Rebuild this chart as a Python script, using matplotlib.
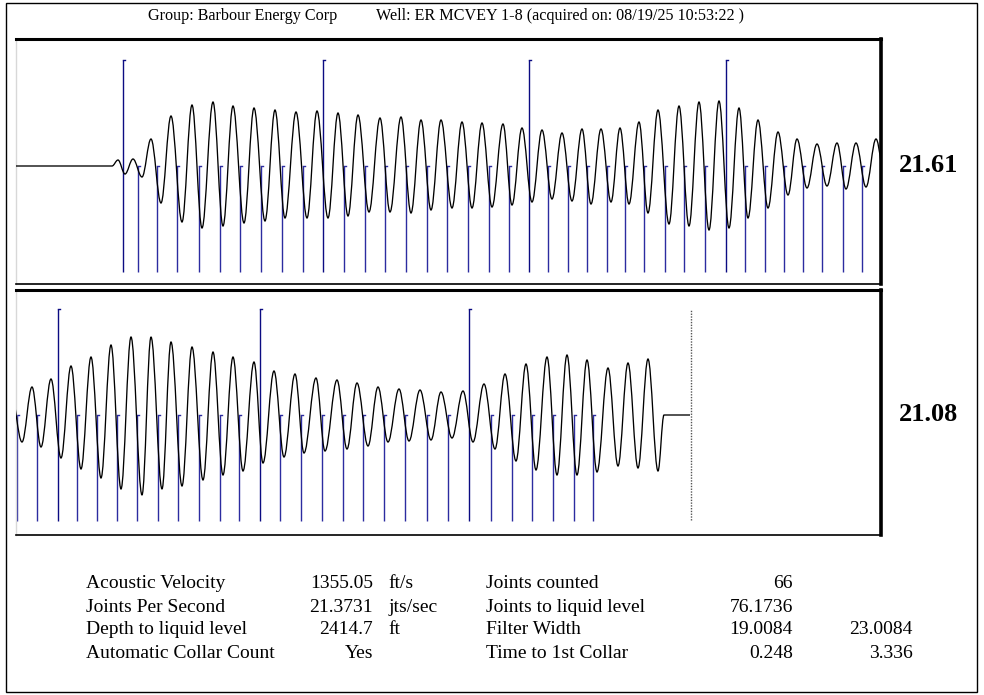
"""
Acoustic liquid level shot - echo trace split over two panels with collar markers.

Samples are trace positions (865 samples per panel), amplitudes in raw counts.
The wave is drawn from its read-off peaks/troughs, each half cycle as a bezier.
"""
import matplotlib
matplotlib.use("Agg")
import matplotlib.pyplot as plt
from matplotlib.patches import PathPatch, Rectangle
from matplotlib.path import Path

plt.rcParams["font.family"] = ["Liberation Serif", "DejaVu Serif"]

WAVE_COLOR = "#000000"
TALL_COLOR = "#0b0b82"
SHORT_COLOR = "#2c2ca0"
PANEL_LEN = 865

HEADER_GROUP = "Group: Barbour Energy Corp"
HEADER_WELL = "Well: ER MCVEY 1-8 (acquired on: 08/19/25 10:53:22 )"
PANEL_VALUES = ["21.61", "21.08"]

# peaks / troughs of the echo (sample, amplitude)
top_s = [0, 96, 102, 109, 117, 126, 135, 145, 155, 166, 176, 186, 197, 207, 217, 228,
         238, 249, 259, 269, 280, 291, 301, 312, 322, 332, 342, 353, 364, 374, 385, 395,
         405, 415, 425, 436, 446, 456, 466, 476, 487, 496, 506, 516, 526, 536, 546, 556,
         566, 575, 585, 595, 604, 613, 623, 632, 642, 653, 663, 673, 683, 693, 703, 713,
         723, 732, 742, 752, 762, 772, 781, 791, 801, 811, 821, 830, 840, 850, 860, 870]
top_a = [0, 0, 6, -8, 7, -11, 27, -37, 50, -56, 61, -62, 64, -60, 60, -57,
         58, -55, 56, -52, 54, -52, 55, -52, 53, -50, 51, -46, 48, -46, 49, -47,
         46, -44, 46, -42, 44, -42, 43, -41, 42, -39, 38, -36, 36, -33, 33, -35,
         37, -38, 37, -36, 38, -38, 44, -47, 56, -58, 60, -60, 64, -64, 65, -62,
         58, -52, 46, -42, 34, -29, 27, -22, 22, -20, 23, -23, 23, -21, 27, -21]

bot_s = [860, 871, 881, 890, 900, 910, 920, 930, 940, 950, 960, 970, 980, 991, 1000, 1011,
         1020, 1031, 1041, 1052, 1062, 1072, 1082, 1092, 1103, 1112, 1123, 1133, 1144, 1153,
         1165, 1174, 1186, 1196, 1206, 1217, 1227, 1237, 1248, 1258, 1269, 1280, 1290, 1301,
         1312, 1322, 1333, 1344, 1354, 1365, 1375, 1385, 1396, 1406, 1416, 1426, 1436, 1446,
         1457, 1467, 1477, 1487, 1497, 1507, 1513, 1539]
bot_a = [22, -27, 28, -32, 36, -43, 49, -54, 58, -63, 70, -74, 78, -80, 78, -74,
         73, -71, 68, -65, 63, -60, 58, -56, 53, -48, 44, -42, 41, -38,
         37, -36, 35, -34, 32, -31, 28, -27, 26, -26, 25, -25, 23, -23,
         24, -27, 31, -34, 41, -46, 51, -55, 58, -60, 60, -60, 55, -57,
         47, -51, 52, -53, 56, -56, 0, 0]

# detected collars, every 10th one is drawn full height
collars = [107, 122, 141, 161, 183, 204, 224, 245, 266, 287,
           307, 328, 349, 369, 390, 411, 431, 452, 473, 493,
           513, 532, 552, 571, 591, 609, 628, 649, 668, 689,
           710, 729, 749, 768, 787, 806, 827, 846, 866, 886,
           907, 926, 946, 966, 986, 1007, 1027, 1048, 1069, 1088,
           1109, 1129, 1150, 1171, 1192, 1212, 1233, 1254, 1276, 1297,
           1318, 1340, 1361, 1381, 1402, 1423, 1442]
record_end = 1540
MARK_H = 106

labels_left = ["Acoustic Velocity", "Joints Per Second", "Depth to liquid level", "Automatic Collar Count"]
values_left = ["1355.05", "21.3731", "2414.7", "Yes"]
units_left = ["ft/s", "jts/sec", "ft", ""]
labels_right = ["Joints counted", "Joints to liquid level", "Filter Width", "Time to 1st Collar"]
values_right = ["66", "76.1736", "19.0084", "0.248"]
values_right2 = ["", "", "23.0084", "3.336"]


def wave_path(s, a, k=0.364):
    verts, codes = [(s[0], a[0])], [Path.MOVETO]
    for i in range(1, len(s)):
        dx = s[i] - s[i - 1]
        verts += [(s[i - 1] + k * dx, a[i - 1]), (s[i] - k * dx, a[i]), (s[i], a[i])]
        codes += [Path.CURVE4] * 3
    return Path(verts, codes)


def style_panel(ax):
    ax.set_xticks([]); ax.set_yticks([])
    for side in ("top", "right", "bottom"):
        ax.spines[side].set_color("black")
    ax.spines["top"].set_linewidth(2.2)
    ax.spines["right"].set_linewidth(2.6)
    ax.spines["bottom"].set_linewidth(1.2)
    ax.spines["left"].set_color("#d8d8d8")
    ax.spines["left"].set_linewidth(1.0)


def draw_panel(ax, s, a, x0, ylim):
    ax.add_patch(PathPatch(wave_path(s, a), fill=False, ec=WAVE_COLOR, lw=0.95, zorder=3))
    for i, c in enumerate(collars):
        if not x0 <= c <= x0 + PANEL_LEN:
            continue
        tall = i % 10 == 0
        lo, hi = -MARK_H, (MARK_H if tall else 0)
        col = TALL_COLOR if tall else SHORT_COLOR
        ax.vlines(c, lo, hi, color=col, lw=1.0, zorder=2)
        ax.plot([c, c + 2], [hi, hi], color=col, lw=1.0, zorder=2)
    ax.set_xlim(x0, x0 + PANEL_LEN)
    ax.set_ylim(*ylim)
    style_panel(ax)


def main():
    W, H = 984, 695
    fig = plt.figure(figsize=(W / 100, H / 100), dpi=100)
    fig.add_artist(Rectangle((6 / W, 1 - 692 / H), 971 / W, 689 / H, transform=fig.transFigure,
                             fill=False, ec="black", lw=1.0))

    ax_top = fig.add_axes([16 / W, 1 - 284 / H, 865 / W, 245 / H])
    ax_bot = fig.add_axes([16 / W, 1 - 535 / H, 865 / W, 245 / H])
    draw_panel(ax_top, top_s, top_a, 0, (-118, 127))
    draw_panel(ax_bot, bot_s, bot_a, PANEL_LEN, (-120, 125))
    ax_bot.vlines(record_end, -105, 105, color="#555555", lw=1.0, linestyles=(0, (1, 1)))

    fig.text(148 / W, 1 - 16 / H, HEADER_GROUP, fontsize=11.6, va="center")
    fig.text(376 / W, 1 - 16 / H, HEADER_WELL, fontsize=11.6, va="center")
    for val, yc in zip(PANEL_VALUES, (166, 415)):
        fig.text(899 / W, 1 - yc / H, val, fontsize=19, fontweight="bold", va="center")

    for r, yc in enumerate((583, 607, 630, 653)):
        y = 1 - yc / H
        fig.text(86 / W, y, labels_left[r], fontsize=14, va="center")
        fig.text(373 / W, y, values_left[r], fontsize=14, va="center", ha="right")
        fig.text(388 / W, y, units_left[r], fontsize=14, va="center")
        fig.text(486 / W, y, labels_right[r], fontsize=14, va="center")
        fig.text(793 / W, y, values_right[r], fontsize=14, va="center", ha="right")
        fig.text(913 / W, y, values_right2[r], fontsize=14, va="center", ha="right")

    fig.savefig("out.png", dpi=100)
    plt.close(fig)


if __name__ == "__main__":
    main()
